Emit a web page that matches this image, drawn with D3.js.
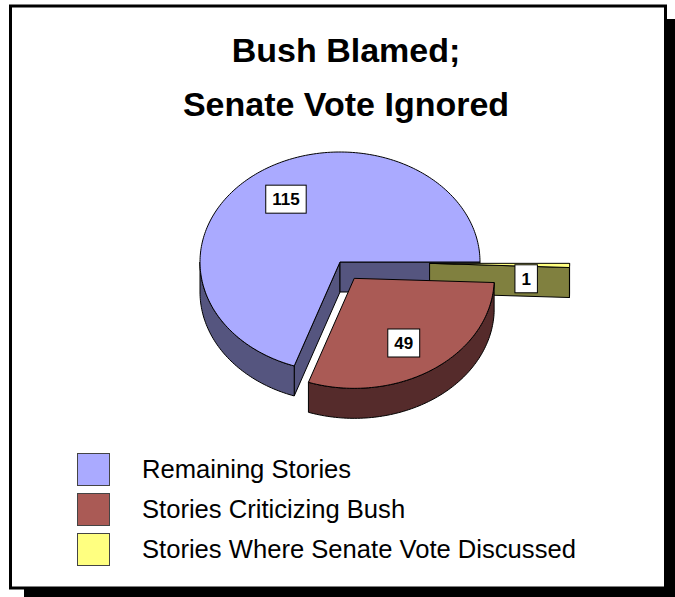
<!DOCTYPE html>
<html>
<head>
<meta charset="utf-8">
<script src="https://cdn.jsdelivr.net/npm/d3@7"></script>
<style>
  html, body { margin: 0; padding: 0; background: #ffffff; }
  svg { display: block; }
</style>
</head>
<body>
<svg id="chart" width="675" height="597"></svg>
<script>
// ---- data ----
const titleLines = ["Bush Blamed;", "Senate Vote Ignored"];
const categories = ["Remaining Stories", "Stories Criticizing Bush", "Stories Where Senate Vote Discussed"];
const values = [115, 49, 1];

// ---- styling / layout (not data) ----
const topColors  = ["#AAAAFF", "#AA5A55", "#FFFF80"];
const sideColors = ["#55557F", "#552B2B", "#80803F"];
const explode    = [0, 0.18, 0.64];      // fraction of radius
const labelNudge = [[2, -1], [-5, 2], [0, 14]];
const drawOrder  = [0, 2, 1];

const W = 675, H = 597;
const svg = d3.select("#chart");
const font = "'Liberation Sans', Arial, Helvetica, sans-serif";

// frame + shadow
svg.append("rect").attr("x", 24).attr("y", 19).attr("width", W - 24).attr("height", H - 19).attr("fill", "#000");
svg.append("rect").attr("x", 10.5).attr("y", 6).attr("width", 655).attr("height", 582)
  .attr("fill", "#fff").attr("stroke", "#000").attr("stroke-width", 3);

// title
svg.append("g").selectAll("text").data(titleLines).join("text")
  .attr("x", 346).attr("y", (d, i) => 62 + i * 54)
  .attr("text-anchor", "middle")
  .attr("font-family", font).attr("font-weight", "bold").attr("font-size", 34)
  .attr("fill", "#000").text(d => d);

// ---- 3D pie ----
const cx = 340, cy = 262, rx = 140, ry = 110, depth = 30;
const pie = d3.pie().sort(null).value(d => d)
  .startAngle(Math.PI / 2).endAngle(Math.PI / 2 - 2 * Math.PI);
const arcs = pie(values);

const line = d3.line();
function rimPt(ox, oy, t, dz) { return [ox + rx * Math.cos(t), oy + ry * Math.sin(t) + (dz || 0)]; }
function samples(a, b, n) {
  const pts = [];
  for (let i = 0; i <= n; i++) pts.push(a + (b - a) * i / n);
  return pts;
}

const pieG = svg.append("g");

drawOrder.forEach(i => {
  const a = arcs[i];
  const t0 = a.startAngle - Math.PI / 2, t1 = a.endAngle - Math.PI / 2;
  const lo = Math.min(t0, t1), hi = Math.max(t0, t1);
  const mid = (lo + hi) / 2;
  const ox = cx + explode[i] * rx * Math.cos(mid);
  const oy = cy + explode[i] * ry * Math.sin(mid);
  const g = pieG.append("g");
  const stroke = "#000";

  // radial faces
  const faces = [];
  if (Math.cos(lo) < 0) faces.push(lo);
  if (Math.cos(hi) > 0) faces.push(hi);
  faces.forEach(t => {
    const p = rimPt(ox, oy, t);
    g.append("path")
      .attr("d", line([[ox, oy], p, [p[0], p[1] + depth], [ox, oy + depth]]) + "Z")
      .attr("fill", sideColors[i]).attr("stroke", stroke).attr("stroke-width", 1).attr("stroke-linejoin", "round");
  });

  // outer rim (front half only)
  for (let k = -2; k <= 1; k++) {
    const s = Math.max(lo, 2 * Math.PI * k), e = Math.min(hi, 2 * Math.PI * k + Math.PI);
    if (e - s > 1e-4) {
      const n = Math.max(4, Math.ceil((e - s) / 0.02));
      const ts = samples(s, e, n);
      const top = ts.map(t => rimPt(ox, oy, t));
      const bot = ts.slice().reverse().map(t => rimPt(ox, oy, t, depth));
      g.append("path").attr("d", line(top.concat(bot)) + "Z")
        .attr("fill", sideColors[i]).attr("stroke", stroke).attr("stroke-width", 1).attr("stroke-linejoin", "round");
    }
  }

  // top
  const n = Math.max(4, Math.ceil((hi - lo) / 0.02));
  const topPts = [[ox, oy]].concat(samples(lo, hi, n).map(t => rimPt(ox, oy, t)));
  g.append("path").attr("d", line(topPts) + "Z")
    .attr("fill", topColors[i]).attr("stroke", stroke).attr("stroke-width", 1).attr("stroke-linejoin", "round");

  a._label = [ox + 0.69 * rx * Math.cos(mid) + labelNudge[i][0], oy + 0.69 * ry * Math.sin(mid) + labelNudge[i][1]];
});

// labels
const labG = svg.append("g");
arcs.forEach((a, i) => {
  const [lx, ly] = a._label;
  const t = labG.append("text").attr("x", lx).attr("y", ly + 6)
    .attr("text-anchor", "middle").attr("font-family", font).attr("font-weight", "bold").attr("font-size", 17)
    .attr("fill", "#000").text(values[i]);
  const tw = t.node().getComputedTextLength();
  const bw = tw + 13, bh = 28;
  labG.insert("rect", () => t.node())
    .attr("x", lx - bw / 2).attr("y", ly - bh / 2).attr("width", bw).attr("height", bh)
    .attr("fill", "#fff").attr("stroke", "#000").attr("stroke-width", 1);
});

// legend
const leg = svg.append("g").selectAll("g").data(categories).join("g")
  .attr("transform", (d, i) => `translate(77,${453 + i * 40})`);
leg.append("rect").attr("x", 0.5).attr("y", 0.5).attr("width", 32).attr("height", 32)
  .attr("fill", (d, i) => topColors[i]).attr("stroke", "#444").attr("stroke-width", 1);
leg.append("text").attr("x", 65).attr("y", 25)
  .attr("font-family", font).attr("font-size", 25.6).attr("fill", "#000").text(d => d);
</script>
</body>
</html>
